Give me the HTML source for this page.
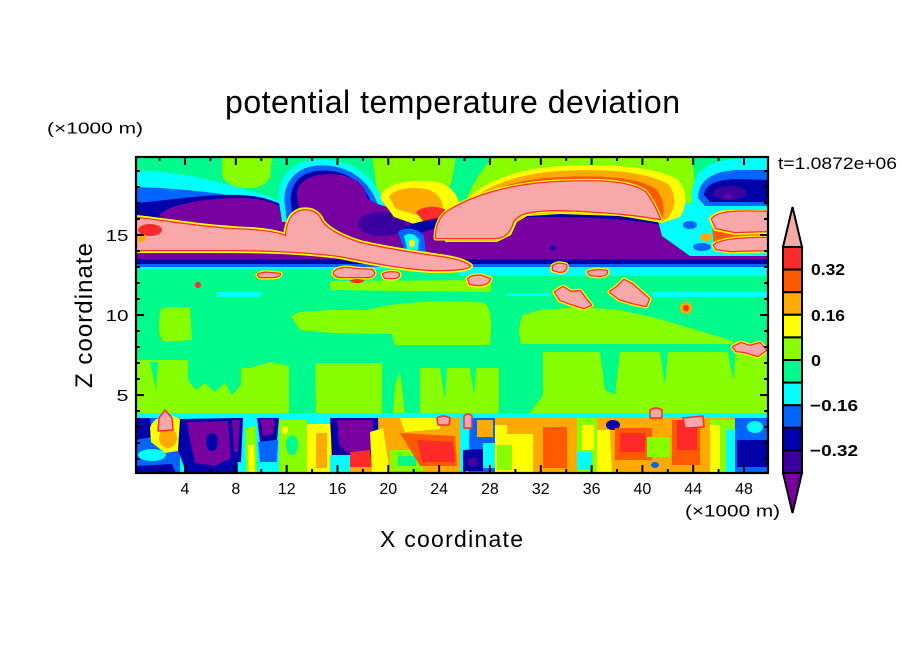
<!DOCTYPE html>
<html><head><meta charset="utf-8"><style>
html,body{margin:0;padding:0;background:#fff;}
svg{display:block;}
text{font-family:"Liberation Sans",sans-serif;fill:#000;}
</style></head><body>
<svg width="904" height="654" viewBox="0 0 904 654" xmlns="http://www.w3.org/2000/svg">
<defs>
<clipPath id="cp"><rect x="136" y="157" width="632" height="316"/></clipPath>
<path id="band" d="M136,218 C160,220 200,228 250,230 C270,231 280,234 286,236 C287,225 290,214 300,211 C310,209 318,212 322,222 C330,232 345,238 360,243 C385,249 420,254 440,257 C455,259 465,262 470,266 C465,270 450,270 430,270 C400,268 370,262 340,256 C310,252 270,250 230,250 C200,250 165,250 136,250 Z"/>
<path id="arc" d="M436,238 C436,225 441,214 452,209 C472,197 508,184 560,182 C604,180 630,182 645,192 C652,200 656,210 660,219 C640,215 600,211 560,210 C530,210 518,213 513,222 C510,232 505,238 495,238 Z"/>
<path id="rp1" d="M712,219 C718,211 740,211 768,212 L768,231 L735,232 L716,228 Z"/>
<path id="rp2" d="M714,245 C722,239 745,238 768,238 L768,250 L730,251 L716,249 Z"/>
<path id="i1" d="M334,272 Q340,266 355,269 L372,270 Q377,274 370,277 L340,277 Q333,276 334,272 Z"/>
<path id="i2" d="M258,275 Q262,272 270,273 L280,274 Q280,277 270,277 L260,277 Z"/>
<path id="i3" d="M383,274 Q390,271 398,273 Q401,276 395,278 L385,278 Z"/>
<path id="i5" d="M468,279 Q472,275 482,276 L490,279 Q488,285 478,285 L470,284 Z"/>
<path id="i6" d="M555,292 L563,287 L571,292 L580,291 L586,299 L591,305 L584,308 L571,304 L560,300 Z"/>
<path id="i7" d="M610,292 L618,286 L624,280 L632,284 L640,291 L649,299 L646,306 L632,303 L619,299 Z"/>
<path id="i8" d="M733,347 L741,343 L750,346 L760,343 L766,350 L758,356 L745,352 L736,351 Z"/>
<path id="i9" d="M553,266 Q558,262 566,265 Q568,271 560,272 L553,270 Z"/>
<path id="i10" d="M588,272 Q595,269 607,271 Q608,275 600,276 L590,275 Z"/>
<path id="b1" d="M158,431 L159,418 L165,410 L172,418 L173,430 Z"/>
<path id="b2" d="M683,418 L703,416 L704,427 L685,428 Z"/>
<path id="b3" d="M464,416 Q468,412 472,416 L472,428 L464,428 Z"/>
<path id="b4" d="M437,418 Q443,414 450,418 L449,425 L438,425 Z"/>
<path id="b5" d="M650,410 Q656,406 662,410 L662,418 L650,418 Z"/>
</defs>
<rect width="904" height="654" fill="#fff"/>
<g clip-path="url(#cp)" stroke-linejoin="round">
<rect x="136" y="157" width="632" height="316" fill="#00fa8c"/>
<!-- top YG -->
<path fill="#88ff00" d="M222,157 L272,157 L270,178 Q262,190 242,188 Q225,185 222,175 Z"/>
<path fill="#88ff00" d="M372,157 L456,157 L452,180 L445,202 L400,206 L378,196 Z"/>
<path fill="#88ff00" d="M493,157 L692,157 L696,190 L690,218 L460,218 Q468,185 493,157 Z"/>
<path fill="#88ff00" d="M742,157 L768,157 L768,168 Q752,166 742,157 Z"/>
<!-- left cold -->
<path fill="#00ffff" d="M136,170 C175,171 225,182 268,196 L300,212 L300,268 L136,268 Z"/>
<path fill="#0064ff" d="M136,187 C175,188 225,193 262,201 L295,214 L295,268 L136,268 Z"/>
<path fill="#0000a8" d="M136,203 C165,201 200,194 240,195 C265,196 282,203 292,212 L292,268 L136,268 Z"/>
<path fill="#7800a0" d="M160,214 C172,204 205,198 240,198 C264,198 280,204 289,213 L292,262 L160,262 Z"/>
<!-- blob 2 -->
<path fill="#00ffff" d="M280,208 C275,185 285,164 312,160 C345,156 372,172 383,200 L392,222 L282,222 Z"/>
<path fill="#0064ff" d="M285,206 C282,188 291,170 313,166 C342,162 366,176 376,200 L386,222 L287,222 Z"/>
<path fill="#0000a8" d="M291,204 C289,188 297,174 316,171 C342,168 362,180 370,200 L382,224 L293,222 Z"/>
<path fill="#7800a0" d="M297,196 C296,181 311,174 331,174 C352,174 366,184 367,198 C372,204 390,208 420,214 L430,262 L340,262 C335,240 318,222 300,212 Z"/>
<ellipse cx="382" cy="224" rx="24" ry="12" fill="#3c00a0"/>
<!-- yellow blob -->
<path fill="#ffff00" d="M380,198 C384,184 408,178 438,182 C455,188 462,200 458,212 L442,230 L420,226 L394,217 Z"/>
<path fill="#ffaa00" d="M389,197 C394,188 414,186 430,190 C441,196 446,205 441,214 L420,216 L396,209 Z"/>
<path fill="#ff2a2a" d="M416,212 C424,205 440,205 449,212 L447,230 L430,230 Z"/>
<!-- big purple right -->
<path fill="#0000a8" d="M405,226 C440,215 490,210 540,208 C600,208 640,212 668,220 L768,222 L768,268 L405,268 Z"/>
<path fill="#7800a0" d="M420,233 C450,223 495,218 540,217 C600,217 640,220 672,227 L768,229 L768,262 L420,262 Z"/>
<circle cx="553" cy="248" r="2.5" fill="#0000a8"/>
<!-- right mixing -->
<path fill="#00ffff" d="M655,210 C680,200 720,202 768,202 L768,256 L690,256 L662,236 Z"/>
<ellipse cx="676" cy="209" rx="6" ry="3" fill="#0064ff"/>
<ellipse cx="690" cy="225" rx="7" ry="4" fill="#0064ff"/>
<ellipse cx="702" cy="247" rx="9" ry="4" fill="#0064ff"/>
<ellipse cx="706" cy="237" rx="6" ry="4" fill="#ffaa00"/>
<path fill="#ff5a00" d="M712,228 L768,228 L768,244 L714,244 Z"/>
<use href="#rp1" fill="none" stroke="#ffff00" stroke-width="6"/>
<use href="#rp1" fill="none" stroke="#ff2a2a" stroke-width="2.5"/>
<use href="#rp1" fill="#f8a8a8"/>
<use href="#rp2" fill="none" stroke="#ffff00" stroke-width="5"/>
<use href="#rp2" fill="none" stroke="#ff2a2a" stroke-width="2.5"/>
<use href="#rp2" fill="#f8a8a8"/>
<!-- right top blob -->
<path fill="#00ffff" d="M692,202 C690,180 700,165 725,160 C745,157 760,158 768,158 L768,210 L698,210 Z"/>
<path fill="#0064ff" d="M698,198 C698,182 710,172 735,170 L768,170 L768,206 L705,206 Z"/>
<path fill="#0000a8" d="M704,195 C705,185 715,180 735,179 L768,180 L768,202 L710,202 Z"/>
<ellipse cx="730" cy="193" rx="17" ry="7" fill="#3c00a0"/>
<ellipse cx="728" cy="196" rx="4" ry="2" fill="#7800a0"/>
<!-- arc -->
<path fill="#ffff00" d="M450,222 C462,196 495,170 560,166 C615,163 660,168 678,180 C688,192 687,206 680,217 L662,223 L620,216 L560,214 L527,216 L517,222 L511,235 L497,242 L445,242 Z"/>
<path fill="#ffaa00" d="M454,219 C467,195 505,174 560,171 C612,168 648,173 668,184 C677,195 676,207 668,218 L661,222 L620,215 L560,213 L526,215 L516,222 L510,234 L496,241 L446,241 Z"/>
<path fill="#ff5a00" d="M457,216 C471,196 508,179 560,177 C610,175 640,178 657,190 C664,200 665,210 662,220 L620,214 L560,212 L525,214 L515,222 L509,233 L496,240 L446,240 Z"/>
<use href="#arc" fill="none" stroke="#ffff00" stroke-width="5"/>
<use href="#arc" fill="none" stroke="#ff2a2a" stroke-width="2.5"/>
<use href="#arc" fill="#f8a8a8"/>
<!-- horizontal lines -->
<rect x="136" y="245" width="334" height="17" fill="#7800a0"/>
<rect x="136" y="259" width="632" height="5" fill="#0000a8"/>
<rect x="136" y="264" width="632" height="3" fill="#0064ff"/>
<rect x="460" y="267" width="308" height="9" fill="#00ffff"/>
<rect x="136" y="267" width="324" height="2" fill="#00ffff"/>
<!-- mixing near 410 -->
<path fill="#0064ff" d="M398,232 C405,226 418,228 424,236 L426,252 L405,252 Z"/>
<path fill="#00ffff" d="M404,236 C409,232 416,234 419,240 L418,250 L407,249 Z"/>
<ellipse cx="412" cy="243" rx="3" ry="4" fill="#ffff00"/>
<!-- left pink band -->
<use href="#band" fill="none" stroke="#ffff00" stroke-width="6"/>
<use href="#band" fill="none" stroke="#ff2a2a" stroke-width="2.5"/>
<use href="#band" fill="#f8a8a8"/>
<ellipse cx="150" cy="230" rx="12" ry="6" fill="#ff2a2a"/>
<ellipse cx="141" cy="238" rx="5" ry="4" fill="#ffaa00"/>
<!-- mid field -->
<rect x="217" y="292" width="44" height="5" fill="#00ffff"/>
<rect x="652" y="292" width="116" height="5" fill="#00ffff"/>
<rect x="507" y="293" width="44" height="3" fill="#00ffff"/>
<path fill="#88ff00" d="M330,281 L491,280 L491,292 L330,290 Z"/>
<path fill="#88ff00" d="M160,312 Q162,306 175,307 L190,308 L192,340 L166,342 Q158,340 159,325 Z"/>
<path fill="#88ff00" d="M291,316 L300,312 L330,310 L365,310 L390,305 C420,301 460,300 485,303 Q492,310 491,330 L490,345 L395,345 L392,334 L330,333 L300,330 Z"/>
<path fill="#88ff00" d="M519,330 L522,315 L540,310 L580,307 L620,310 L660,319 L700,331 L733,341 L733,344 L521,344 Z"/>
<!-- lower zone -->
<rect x="136" y="352" width="632" height="61" fill="#88ff00"/>
<path fill="#00fa8c" d="M136,352 L188,352 L188,360 L136,360 Z"/>
<path fill="#00fa8c" d="M188,352 L241,352 L241,385 L232,395 L225,383 L215,392 L205,383 L196,390 L188,380 Z"/>
<path fill="#00fa8c" d="M241,352 L289,352 L289,366 L270,362 L250,368 L241,368 Z"/>
<path fill="#00fa8c" d="M289,352 L315,352 L316,413 L289,413 Z"/>
<path fill="#00fa8c" d="M315,352 L382,352 L382,363 L315,363 Z"/>
<path fill="#00fa8c" d="M382,352 L420,352 L420,413 L382,413 Z"/>
<path fill="#88ff00" d="M395,385 L400,372 L405,413 L393,413 Z"/>
<path fill="#00fa8c" d="M420,352 L500,352 L500,368 L420,368 Z"/>
<path fill="#00fa8c" d="M440,368 L447,368 L445,400 Z"/>
<path fill="#00fa8c" d="M470,368 L476,368 L474,395 Z"/>
<path fill="#00fa8c" d="M499,352 L543,352 L543,395 L530,413 L499,413 Z"/>
<path fill="#00fa8c" d="M600,352 L620,352 L615,395 L605,390 Z"/>
<path fill="#00fa8c" d="M660,352 L668,352 L665,385 Z"/>
<path fill="#00fa8c" d="M728,352 L736,352 L733,380 Z"/>
<path fill="#00fa8c" d="M150,362 L158,362 L156,390 Z"/>
<!-- islands -->
<g fill="none" stroke="#ffff00" stroke-width="5">
<use href="#i1"/><use href="#i2"/><use href="#i3"/><use href="#i5"/><use href="#i6"/><use href="#i7"/><use href="#i8"/><use href="#i9"/><use href="#i10"/>
</g>
<g fill="none" stroke="#ff2a2a" stroke-width="2.5">
<use href="#i1"/><use href="#i2"/><use href="#i3"/><use href="#i5"/><use href="#i6"/><use href="#i7"/><use href="#i8"/><use href="#i9"/><use href="#i10"/>
</g>
<g fill="#f8a8a8">
<use href="#i1"/><use href="#i2"/><use href="#i3"/><use href="#i5"/><use href="#i6"/><use href="#i7"/><use href="#i8"/><use href="#i9"/><use href="#i10"/>
</g>
<ellipse cx="357" cy="281" rx="7" ry="2" fill="#ff2a2a"/>
<ellipse cx="198" cy="285" rx="3" ry="3" fill="#ff2a2a"/>
<ellipse cx="686" cy="308" rx="6" ry="6" fill="#ffaa00"/>
<ellipse cx="686" cy="308" rx="3" ry="3" fill="#ff2a2a"/>
<!-- bottom strip -->
<rect x="136" y="413" width="632" height="5" fill="#00ffff"/>
<rect x="136" y="418" width="44" height="55" fill="#0064ff"/>
<rect x="180" y="418" width="150" height="55" fill="#00ffff"/>
<rect x="330" y="418" width="130" height="55" fill="#ffaa00"/>
<rect x="460" y="418" width="35" height="55" fill="#0064ff"/>
<rect x="495" y="418" width="240" height="55" fill="#ffaa00"/>
<rect x="735" y="418" width="33" height="55" fill="#0064ff"/>
<path fill="#0000a8" d="M136,418 L150,418 L152,437 L136,440 Z"/>
<ellipse cx="152" cy="455" rx="14" ry="6" fill="#00ffff"/>
<path fill="#0000a8" d="M136,466 L172,464 L176,473 L136,473 Z"/>
<path fill="#ffff00" d="M150,428 C153,416 170,412 182,420 L184,450 L165,453 L151,442 Z"/>
<ellipse cx="168" cy="438" rx="9" ry="10" fill="#ffaa00"/>
<path fill="#0000a8" d="M180,419 L236,418 L238,472 L186,472 L178,450 Z"/>
<path fill="#7800a0" d="M187,422 L228,421 L231,458 L215,466 L195,463 L190,440 Z"/>
<ellipse cx="212" cy="442" rx="6" ry="9" fill="#0000a8"/>
<path fill="#0000a8" d="M229,418 L243,418 L241,462 L232,462 Z"/>
<path fill="#7800a0" d="M232,420 L240,420 L238,452 L234,452 Z"/>
<path fill="#88ff00" d="M245,428 L256,426 L257,473 L246,473 Z"/>
<path fill="#ffff00" d="M248,445 L254,445 L255,473 L249,473 Z"/>
<path fill="#0000a8" d="M257,418 L279,418 L277,440 L260,442 Z"/>
<path fill="#7800a0" d="M260,419 L275,419 L273,434 L263,436 Z"/>
<path fill="#0064ff" d="M258,442 L278,440 L277,462 L260,462 Z"/>
<path fill="#88ff00" d="M279,420 L307,420 L307,473 L279,473 Z"/>
<ellipse cx="292" cy="445" rx="6" ry="10" fill="#00fa8c"/>
<ellipse cx="285" cy="430" rx="3" ry="4" fill="#ffff00"/>
<path fill="#ffff00" d="M307,424 L331,424 L331,473 L307,473 Z"/>
<path fill="#ffaa00" d="M316,433 L327,433 L327,468 L316,468 Z"/>
<path fill="#0000a8" d="M330,418 L378,418 L379,458 L346,461 L332,455 Z"/>
<path fill="#7800a0" d="M337,420 L373,420 L372,450 L346,452 L339,444 Z"/>
<path fill="#00ffff" d="M330,455 L350,455 L350,473 L330,473 Z"/>
<path fill="#ff2a2a" d="M350,452 L370,450 L372,467 L350,467 Z"/>
<path fill="#ffff00" d="M370,432 L383,428 L390,472 L372,473 Z"/>
<path fill="#88ff00" d="M390,450 L423,450 L423,471 L390,471 Z"/>
<path fill="#00fa8c" d="M398,456 L416,456 L416,466 L398,466 Z"/>
<path fill="#ff5a00" d="M400,433 L455,436 L457,466 L420,466 Z"/>
<path fill="#ff2a2a" d="M417,440 L453,442 L455,462 L422,462 Z"/>
<path fill="#ffff00" d="M400,418 L440,418 L440,429 L405,432 Z"/>
<path fill="#00ffff" d="M460,418 L470,418 L468,473 L460,473 Z"/>
<path fill="#0000a8" d="M463,450 L483,449 L483,471 L463,471 Z"/>
<ellipse cx="473" cy="462" rx="6" ry="5" fill="#3c00a0"/>
<path fill="#00ffff" d="M483,443 L497,443 L497,468 L483,468 Z"/>
<path fill="#ffaa00" d="M477,420 L493,420 L493,437 L477,437 Z"/>
<path fill="#ffff00" d="M495,425 L533,425 L533,473 L495,473 Z"/>
<path fill="#88ff00" d="M497,445 L512,445 L512,470 L497,470 Z"/>
<path fill="#ffaa00" d="M507,420 L533,420 L533,434 L507,434 Z"/>
<path fill="#ff5a00" d="M543,427 L567,427 L567,468 L543,468 Z"/>
<path fill="#88ff00" d="M577,418 L597,418 L597,473 L577,473 Z"/>
<path fill="#ffff00" d="M582,425 L594,425 L594,450 L582,450 Z"/>
<path fill="#00ffff" d="M577,452 L592,452 L592,470 L577,470 Z"/>
<path fill="#ffff00" d="M597,430 L610,430 L612,473 L597,473 Z"/>
<ellipse cx="613" cy="425" rx="7" ry="5" fill="#0000a8"/>
<path fill="#ff5a00" d="M615,428 L652,428 L652,460 L615,460 Z"/>
<path fill="#ff2a2a" d="M620,433 L645,433 L645,452 L620,452 Z"/>
<path fill="#88ff00" d="M647,437 L670,437 L670,457 L647,457 Z"/>
<ellipse cx="655" cy="465" rx="4" ry="3" fill="#0064ff"/>
<path fill="#ff5a00" d="M672,420 L700,420 L700,465 L672,465 Z"/>
<path fill="#ff2a2a" d="M677,420 L697,420 L697,450 L677,450 Z"/>
<path fill="#88ff00" d="M710,420 L735,420 L735,473 L710,473 Z"/>
<path fill="#ffff00" d="M710,425 L720,425 L720,473 L710,473 Z"/>
<path fill="#00ffff" d="M726,430 L735,430 L735,473 L726,473 Z"/>
<path fill="#0000a8" d="M737,440 L768,440 L768,467 L737,467 Z"/>
<ellipse cx="755" cy="427" rx="8" ry="6" fill="#00ffff"/>
<g fill="#f8a8a8" stroke="#ff2a2a" stroke-width="1.5">
<use href="#b1"/><use href="#b2"/><use href="#b3"/><use href="#b4"/><use href="#b5"/>
</g>
</g>
<!-- frame -->
<rect x="136" y="157" width="632" height="316" fill="none" stroke="#000" stroke-width="2.2"/>
<path stroke="#000" stroke-width="2" fill="none" d="
M185,473v-8 M235.8,473v-8 M286.7,473v-8 M337.5,473v-8 M388.3,473v-8 M439.1,473v-8 M489.9,473v-8 M540.8,473v-8 M591.6,473v-8 M642.4,473v-8 M693.2,473v-8 M744,473v-8
M159.6,473v-4 M210.4,473v-4 M261.3,473v-4 M312.1,473v-4 M362.9,473v-4 M413.7,473v-4 M464.5,473v-4 M515.4,473v-4 M566.2,473v-4 M617,473v-4 M667.8,473v-4 M718.6,473v-4
M185,157v8 M235.8,157v8 M286.7,157v8 M337.5,157v8 M388.3,157v8 M439.1,157v8 M489.9,157v8 M540.8,157v8 M591.6,157v8 M642.4,157v8 M693.2,157v8 M744,157v8
M159.6,157v4 M210.4,157v4 M261.3,157v4 M312.1,157v4 M362.9,157v4 M413.7,157v4 M464.5,157v4 M515.4,157v4 M566.2,157v4 M617,157v4 M667.8,157v4 M718.6,157v4
M136,395h8 M136,315h8 M136,235h8 M768,395h-8 M768,315h-8 M768,235h-8
M136,459h4 M136,443h4 M136,427h4 M136,411h4 M136,379h4 M136,363h4 M136,347h4 M136,331h4 M136,299h4 M136,283h4 M136,267h4 M136,251h4 M136,219h4 M136,203h4 M136,187h4 M136,171h4
M768,459h-4 M768,443h-4 M768,427h-4 M768,411h-4 M768,379h-4 M768,363h-4 M768,347h-4 M768,331h-4 M768,299h-4 M768,283h-4 M768,267h-4 M768,251h-4 M768,219h-4 M768,203h-4 M768,187h-4 M768,171h-4"/>
<!-- texts -->
<text x="225" y="113" font-size="32" textLength="455" lengthAdjust="spacing">potential temperature deviation</text>
<text x="47" y="133.5" font-size="16" textLength="96" lengthAdjust="spacingAndGlyphs">(×1000 m)</text>
<text x="778" y="169" font-size="17" textLength="119" lengthAdjust="spacingAndGlyphs">t=1.0872e+06</text>
<g font-size="16" text-anchor="end">
<text x="128.5" y="241" textLength="23" lengthAdjust="spacingAndGlyphs">15</text>
<text x="128.5" y="321" textLength="23" lengthAdjust="spacingAndGlyphs">10</text>
<text x="128.5" y="401" textLength="12" lengthAdjust="spacingAndGlyphs">5</text>
</g>
<g font-size="16" text-anchor="middle">
<text x="185" y="494">4</text>
<text x="235.8" y="494">8</text>
<text x="286.7" y="494">12</text>
<text x="337.5" y="494">16</text>
<text x="388.3" y="494">20</text>
<text x="439.1" y="494">24</text>
<text x="489.9" y="494">28</text>
<text x="540.8" y="494">32</text>
<text x="591.6" y="494">36</text>
<text x="642.4" y="494">40</text>
<text x="693.2" y="494">44</text>
<text x="744" y="494">48</text>
</g>
<text x="685" y="516.5" font-size="17" textLength="95" lengthAdjust="spacingAndGlyphs">(×1000 m)</text>
<text x="380" y="547" font-size="23" textLength="143" lengthAdjust="spacing">X coordinate</text>
<text transform="translate(92,388) rotate(-90)" x="0" y="0" font-size="24" textLength="145" lengthAdjust="spacing">Z coordinate</text>
<!-- colorbar -->
<g stroke="#000" stroke-width="2" stroke-linejoin="miter">
<polygon points="783,247 792.5,207 802,247" fill="#f8a8a8"/>
<rect x="783" y="247" width="19" height="22.6" fill="#ff2a2a"/>
<rect x="783" y="269.6" width="19" height="22.6" fill="#ff5a00"/>
<rect x="783" y="292.2" width="19" height="22.6" fill="#ffaa00"/>
<rect x="783" y="314.8" width="19" height="22.6" fill="#ffff00"/>
<rect x="783" y="337.4" width="19" height="22.6" fill="#88ff00"/>
<rect x="783" y="360" width="19" height="22.6" fill="#00fa8c"/>
<rect x="783" y="382.6" width="19" height="22.6" fill="#00ffff"/>
<rect x="783" y="405.2" width="19" height="22.6" fill="#0064ff"/>
<rect x="783" y="427.8" width="19" height="22.6" fill="#0000a8"/>
<rect x="783" y="450.4" width="19" height="22.6" fill="#3c00a0"/>
<polygon points="783,473 792.5,513 802,473" fill="#7800a0"/>
</g>
<g font-size="16" font-weight="bold">
<text x="811" y="275" textLength="34" lengthAdjust="spacingAndGlyphs">0.32</text>
<text x="811" y="321" textLength="34" lengthAdjust="spacingAndGlyphs">0.16</text>
<text x="811" y="366" textLength="10" lengthAdjust="spacingAndGlyphs">0</text>
<text x="810" y="411" textLength="48" lengthAdjust="spacingAndGlyphs">−0.16</text>
<text x="810" y="456" textLength="48" lengthAdjust="spacingAndGlyphs">−0.32</text>
</g>
</svg>
</body></html>
